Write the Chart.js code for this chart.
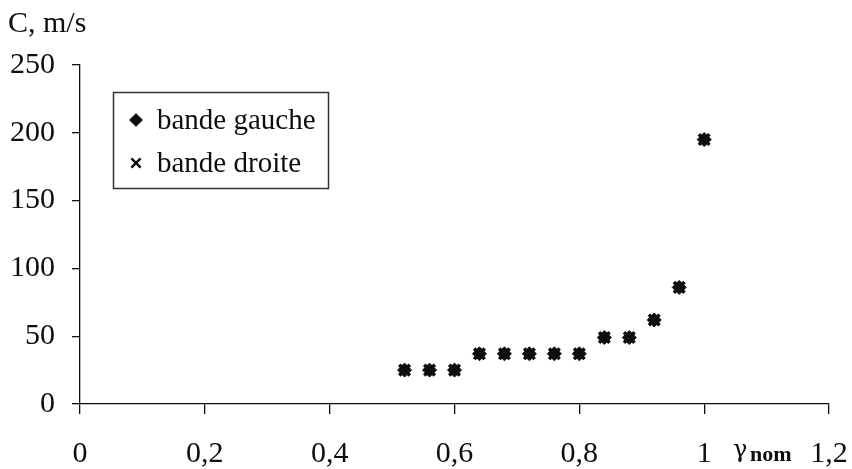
<!DOCTYPE html>
<html>
<head>
<meta charset="utf-8">
<script src="https://cdn.jsdelivr.net/npm/chart.js@4"></script>
<style>
  html, body { margin: 0; padding: 0; background: #fff; }
  #wrap { position: relative; width: 852px; height: 469px; }
</style>
</head>
<body>
<div id="wrap"><canvas id="c" width="852" height="469"></canvas></div>
<script>
// ---- data ----
const gammaNom = [0.52, 0.56, 0.60, 0.64, 0.68, 0.72, 0.76, 0.80, 0.84, 0.88, 0.92, 0.96, 1.00];
const cBandeGauche = [25, 25, 25, 37, 37, 37, 37, 37, 49, 49, 62, 86, 195];
const cBandeDroite = [25, 25, 25, 37, 37, 37, 37, 37, 49, 49, 62, 86, 195];
const xTickValues = [0, 0.2, 0.4, 0.6, 0.8, 1, 1.2];
const xTickLabels = ['0', '0,2', '0,4', '0,6', '0,8', '1', '1,2'];
const yTickLabels = ['0', '50', '100', '150', '200', '250'];
const seriesNames = ['bande gauche', 'bande droite'];
const yAxisTitle = 'C, m/s';
const xAxisTitleMain = 'γ';
const xAxisTitleSub = 'nom';

const FONT = '"Liberation Serif", "Times New Roman", serif';
const INK = '#0e0e0e';

const toPoints = (xs, ys) => xs.map((x, i) => ({ x: x, y: ys[i] }));

const extraText = {
  id: 'extraText',
  afterDraw(chart) {
    const ctx = chart.ctx;
    ctx.save();
    ctx.fillStyle = INK;
    ctx.strokeStyle = INK;
    ctx.textBaseline = 'alphabetic';
    ctx.textAlign = 'left';
    // y axis title
    ctx.font = '30px ' + FONT;
    ctx.fillText(yAxisTitle, 8, 32);
    // x axis title (gamma_nom)
    ctx.font = '24px "DejaVu Serif", serif';
    ctx.fillText(xAxisTitleMain, 733, 457);
    ctx.font = 'bold 22px ' + FONT;
    ctx.fillText(xAxisTitleSub, 750, 461);
    // legend box
    ctx.lineWidth = 1.5;
    ctx.strokeStyle = '#333';
    ctx.strokeRect(113.5, 92.5, 215, 96);
    ctx.font = '29px ' + FONT;
    ctx.fillStyle = INK;
    // diamond
    Chart.helpers.drawPoint(ctx, { pointStyle: 'rectRot', radius: 6, borderWidth: 1 }, 136, 120);
    ctx.fill();
    ctx.fillText(seriesNames[0], 157, 129);
    // cross
    ctx.lineWidth = 2.5;
    ctx.strokeStyle = INK;
    Chart.helpers.drawPoint(ctx, { pointStyle: 'crossRot', radius: 6.5, borderWidth: 2.5 }, 136, 163);
    ctx.fillText(seriesNames[1], 157, 172);
    ctx.restore();
  }
};

new Chart(document.getElementById('c'), {
  type: 'scatter',
  data: {
    datasets: [
      {
        label: seriesNames[0],
        data: toPoints(gammaNom, cBandeGauche),
        pointStyle: 'rectRot',
        pointRadius: 7,
        backgroundColor: INK,
        borderColor: INK,
        borderWidth: 1
      },
      {
        label: seriesNames[1],
        data: toPoints(gammaNom, cBandeDroite),
        pointStyle: 'crossRot',
        pointRadius: 7.5,
        backgroundColor: INK,
        borderColor: INK,
        borderWidth: 3.5
      },
      {
        label: 'overlay',
        data: toPoints(gammaNom, cBandeDroite),
        pointStyle: 'rect',
        pointRadius: 4.5,
        backgroundColor: INK,
        borderColor: INK,
        borderWidth: 1
      }
    ]
  },
  options: {
    responsive: false,
    animation: false,
    events: [],
    layout: { padding: { top: 65, right: 23, left: 0, bottom: 0 } },
    plugins: {
      legend: { display: false },
      title: { display: false },
      tooltip: { enabled: false }
    },
    scales: {
      x: {
        type: 'linear',
        min: 0,
        max: 1.2,
        afterBuildTicks(scale) {
          scale.ticks = xTickValues.map(v => ({ value: v }));
        },
        afterFit(scale) {
          scale.height = 65;
          scale.paddingLeft = 0;
          scale.paddingRight = 0;
        },
        border: { display: true, color: INK, width: 1.3 },
        grid: { display: true, drawOnChartArea: false, drawTicks: true, tickLength: 10, color: INK, lineWidth: 1.3 },
        ticks: {
          padding: 22,
          color: INK,
          font: { family: FONT, size: 30 },
          maxRotation: 0,
          autoSkip: false,
          callback(value) {
            const i = xTickValues.findIndex(v => Math.abs(v - value) < 1e-9);
            return i >= 0 ? xTickLabels[i] : '';
          }
        }
      },
      y: {
        type: 'linear',
        min: 0,
        max: 250,
        afterBuildTicks(scale) {
          scale.ticks = yTickLabels.map(v => ({ value: Number(v) }));
        },
        afterFit(scale) {
          scale.width = 80;
          scale.paddingTop = 0;
          scale.paddingBottom = 0;
        },
        border: { display: true, color: INK, width: 1.3 },
        grid: { display: true, drawOnChartArea: false, drawTicks: true, tickLength: 8, color: INK, lineWidth: 1.3 },
        ticks: {
          padding: 17,
          color: INK,
          font: { family: FONT, size: 30 },
          callback(value) {
            const i = yTickLabels.indexOf(String(value));
            return i >= 0 ? yTickLabels[i] : '';
          }
        }
      }
    }
  },
  plugins: [extraText]
});
</script>
</body>
</html>
